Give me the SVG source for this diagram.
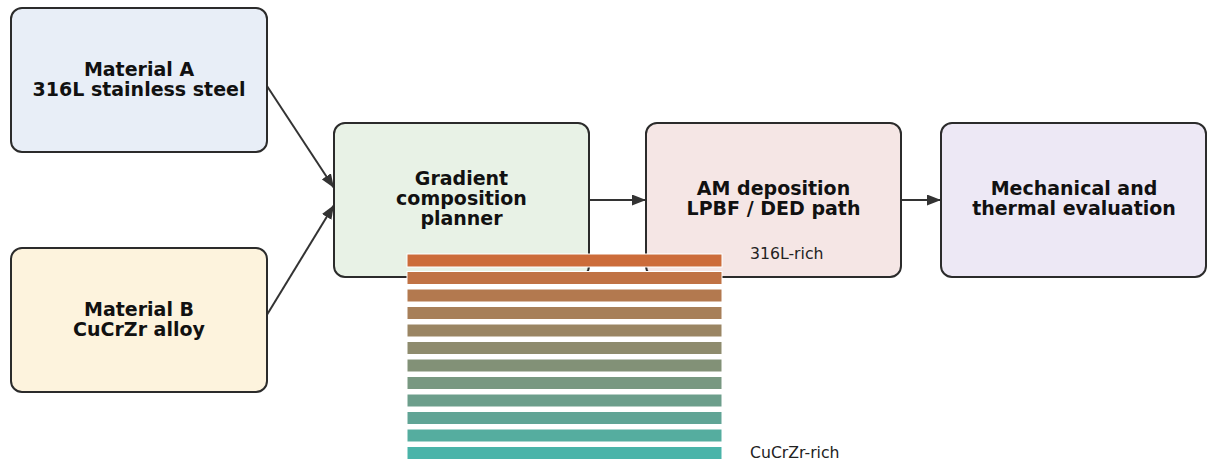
<svg xmlns="http://www.w3.org/2000/svg" width="1207" height="464" viewBox="0 0 1207 464">
<defs>
<style>
.box{stroke:#2b2b2b;stroke-width:2}
.t{font-family:"DejaVu Sans",sans-serif;font-weight:bold;font-size:19px;fill:#111;text-anchor:middle}
.lbl{font-family:"DejaVu Sans",sans-serif;font-size:15.7px;fill:#222}
.c{stroke:#333;stroke-width:2;fill:none;marker-end:url(#ah)}
.s{stroke:#ffffff;stroke-width:1}
</style>
<marker id="ah" viewBox="0 0 14 11" refX="14" refY="5.5" markerWidth="14" markerHeight="11" markerUnits="userSpaceOnUse" orient="auto">
<path d="M0,0 L14,5.5 L0,11 z" fill="#333"/>
</marker>
</defs>
<rect width="1207" height="464" fill="#ffffff"/>
<g id="connectors">
<line class="c" x1="265" y1="83" x2="334" y2="188"/>
<line class="c" x1="265" y1="318" x2="334" y2="205"/>
<line class="c" x1="589" y1="200" x2="646" y2="200"/>
<line class="c" x1="901" y1="200" x2="941" y2="200"/>
</g>
<g id="materialA">
<rect class="box" x="11" y="8" width="256" height="144" rx="11" fill="#e8eef7"/>
<text class="t" x="139" y="76">Material A</text>
<text class="t" x="139" y="96">316L stainless steel</text>
</g>
<g id="materialB">
<rect class="box" x="11" y="248" width="256" height="144" rx="11" fill="#fdf3dd"/>
<text class="t" x="139" y="316">Material B</text>
<text class="t" x="139" y="336">CuCrZr alloy</text>
</g>
<g id="planner">
<rect class="box" x="334" y="123" width="255" height="154" rx="11" fill="#e8f2e6"/>
<text class="t" x="461.5" y="185">Gradient</text>
<text class="t" x="461.5" y="205">composition</text>
<text class="t" x="461.5" y="225">planner</text>
</g>
<g id="deposition">
<rect class="box" x="646" y="123" width="255" height="154" rx="11" fill="#f5e6e5"/>
<text class="t" x="773.5" y="195">AM deposition</text>
<text class="t" x="773.5" y="215">LPBF / DED path</text>
</g>
<g id="evaluation">
<rect class="box" x="941" y="123" width="265" height="154" rx="11" fill="#ede8f5"/>
<text class="t" x="1074" y="195">Mechanical and</text>
<text class="t" x="1074" y="215">thermal evaluation</text>
</g>
<g id="gradient">
<rect class="s" x="407" y="254" width="315" height="13" fill="#cc6c3a"/>
<rect class="s" x="407" y="271.5" width="315" height="13" fill="#c07244"/>
<rect class="s" x="407" y="289" width="315" height="13" fill="#b3794f"/>
<rect class="s" x="407" y="306.5" width="315" height="13" fill="#a77f59"/>
<rect class="s" x="407" y="324" width="315" height="13" fill="#9a8563"/>
<rect class="s" x="407" y="341.5" width="315" height="13" fill="#8e8b6d"/>
<rect class="s" x="407" y="359" width="315" height="13" fill="#829177"/>
<rect class="s" x="407" y="376.5" width="315" height="13" fill="#789881"/>
<rect class="s" x="407" y="394" width="315" height="13" fill="#6c9e8b"/>
<rect class="s" x="407" y="411.5" width="315" height="13" fill="#60a495"/>
<rect class="s" x="407" y="429" width="315" height="13" fill="#55ad9f"/>
<rect class="s" x="407" y="446.5" width="315" height="13" fill="#4ab4a9"/>
<text class="lbl" x="750" y="259">316L-rich</text>
<text class="lbl" x="750" y="458">CuCrZr-rich</text>
</g>
</svg>
